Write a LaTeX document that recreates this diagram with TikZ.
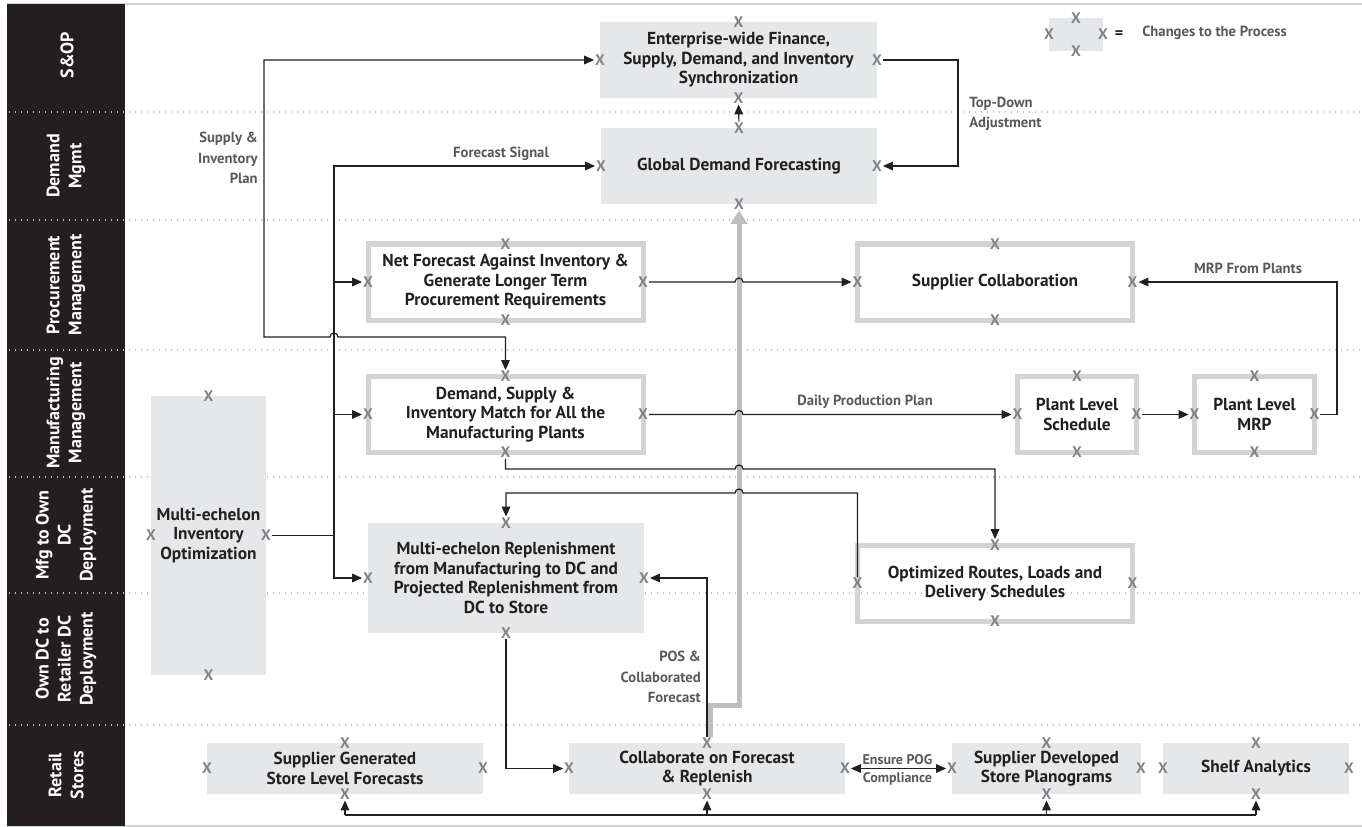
\documentclass[tikz,border=0pt]{standalone}
\usepackage{fontspec}
\setmainfont{PT Sans}
\usetikzlibrary{arrows.meta}
\definecolor{ink}{HTML}{231F20}
\definecolor{boxgray}{HTML}{E6E7E8}
\definecolor{rimgray}{HTML}{D1D3D4}
\definecolor{xgray}{HTML}{808285}
\definecolor{labgray}{HTML}{58595B}
\definecolor{flowgray}{HTML}{BCBEC0}
\definecolor{dotgray}{HTML}{BCBEC0}
\begin{document}
\begin{tikzpicture}[x=0.75pt,y=-0.75pt,
  sz/.style 2 args={minimum width=#1*0.75pt, minimum height=#2*0.75pt},
  boxtext/.style={inner sep=0pt, outer sep=0pt, align=center, text=ink, font=\bfseries\fontsize{13}{14.6}\selectfont},
  graybox/.style={boxtext, fill=boxgray, draw=none},
  rimbox/.style={boxtext, draw=rimgray, line width=3.75pt},
  xm/.style={text=xgray, font=\bfseries\fontsize{11.5}{11.5}\selectfont, inner sep=0.6pt},
  conn/.style={draw=ink, line width=0.9pt},
  arr/.style={conn, -{Triangle[length=7.5pt,width=6.5pt]}},
  lab/.style={text=labgray, font=\bfseries\fontsize{11}{15.4}\selectfont, inner sep=0pt},
  lane/.style={rotate=90, text=white, align=center, font=\bfseries\fontsize{13.5}{16.5}\selectfont},
  divider/.style={draw=dotgray, line width=0.9pt, dash pattern=on 0.9pt off 3.6pt},
  flow/.style={draw=flowgray, line width=3.75pt, -{Triangle[length=10pt,width=12pt]}},
]
\useasboundingbox (0,0) rectangle (1362,827);
% frame and sidebar
\draw[rimgray, line width=1pt] (7,4) -- (1362,4);
\draw[rimgray, line width=1pt] (7,826) -- (1362,826);
\fill[ink] (7,4) rectangle (125,826);
\foreach \yy in {112,220,350,477,593,725} \draw[divider] (9,\yy) -- (1362,\yy);
% lanes
\node[lane] (l1) at (67,55) {S\&OP};
\node[lane] (l2) at (66,166) {Demand\\Mgmt};
\node[lane] (l3) at (66,285) {Procurement\\Management};
\node[lane] (l4) at (66,413) {Manufacturing\\Management};
\node[lane] (l5) at (66,535) {Mfg to Own\\DC\\Deployment};
\node[lane] (l6) at (66,659) {Own DC to\\Retailer DC\\Deployment};
\node[lane] (l7) at (66,775) {Retail\\Stores};
% boxes
\node[graybox, sz={277}{76}] (ent) at (738.5,60) {Enterprise-wide Finance,\\Supply, Demand, and Inventory\\Synchronization};
\node[graybox, sz={276}{76}] (gdf) at (739,166) {Global Demand Forecasting};
\node[rimbox, sz={275}{76}] (nf) at (505.5,282) {Net Forecast Against Inventory \&\\Generate Longer Term\\Procurement Requirements};
\node[rimbox, sz={275}{76}] (dsi) at (505.5,414.5) {Demand, Supply \&\\Inventory Match for All the\\Manufacturing Plants};
\node[rimbox, sz={275}{76}] (sc) at (995,282) {Supplier Collaboration};
\node[rimbox, sz={119}{76}] (pls) at (1077,414.5) {Plant Level\\Schedule};
\node[rimbox, sz={120}{76}] (pmrp) at (1254.5,414.5) {Plant Level\\MRP};
\node[graybox, sz={115}{279}] (meio) at (208.5,535.5) {Multi-echelon\\Inventory\\Optimization};
\node[graybox, sz={276}{110}] (mer) at (506,578) {Multi-echelon Replenishment\\from Manufacturing to DC and\\Projected Replenishment from\\DC to Store};
\node[rimbox, sz={275}{76}] (orl) at (995,583.5) {Optimized Routes, Loads and\\Delivery Schedules};
\node[graybox, sz={276}{51}] (sgf) at (345,768.5) {Supplier Generated\\Store Level Forecasts};
\node[graybox, sz={276}{51}] (cfr) at (707,768.5) {Collaborate on Forecast\\\& Replenish};
\node[graybox, sz={189}{51}] (sdp) at (1046.5,768.5) {Supplier Developed\\Store Planograms};
\node[graybox, sz={186}{51}] (sa) at (1256,768.5) {Shelf Analytics};
% legend
\node[fill=boxgray, inner sep=0pt, outer sep=0pt, sz={54}{33}] (leg) at (1076,34.5) {};
\node[text=ink, font=\bfseries\fontsize{12}{12}\selectfont, inner sep=0pt] (eq) at (1119,35) {=};
\node[text=labgray, font=\bfseries\fontsize{11}{12}\selectfont, anchor=west, inner sep=0pt] (legt) at (1142,33) {Changes to the Process};
% X markers
\foreach \b in {ent,gdf,nf,dsi,sc,pls,pmrp,meio,mer,orl,sgf,cfr,sdp,sa,leg}{
  \node[xm] (\b-n) at (\b.north) {X};
  \node[xm] (\b-s) at (\b.south) {X};
  \node[xm] (\b-e) at (\b.east) {X};
  \node[xm] (\b-w) at (\b.west) {X};
}
% big gray flow
\coordinate (cfrtop) at ([xshift=2.25pt]cfr-n.north);
\coordinate (gx) at (739,705);
\draw[flow] (cfrtop) |- (gx) -- (gdf-s);
% connectors
\draw[arr] (gdf-n) -- (ent-s);
\coordinate (td) at (958,60);
\draw[arr] (ent-e) -- (td) |- (gdf-e);
\node[lab, anchor=west, align=left] (tdl) at (969,114) {Top-Down\\Adjustment};
% supply & inventory plan
\draw[conn, {Triangle[length=7.5pt,width=6.5pt]}-{Triangle[length=7.5pt,width=6.5pt]}] (ent-w) -| (264,337) -- (330,337) .. controls (330,331.7) and (338,331.7) .. (338,337) -- (505.5,337) -- (dsi-n);
\node[lab, anchor=east, align=right] (sipl) at (258,158) {Supply \&\\Inventory\\Plan};
% forecast signal bus
\coordinate (bus) at (334,535.5);
\draw[arr] (meio-e) -- (bus) |- (gdf-w);
\draw[arr] (bus |- nf-w) -- (nf-w);
\draw[arr] (bus |- dsi-w) -- (dsi-w);
\draw[arr] (bus) |- (mer-w);
\node[lab] (fsl) at (501,154) {Forecast Signal};
% procurement
\draw[arr] (nf-e) -- (735,282) .. controls (735,276.7) and (743,276.7) .. (743,282) -- (sc-w);
% manufacturing
\draw[arr] (dsi-e) -- (735,414.5) .. controls (735,409.2) and (743,409.2) .. (743,414.5) -- (pls-w);
\node[lab] (dpl) at (865,402) {Daily Production Plan};
\draw[arr] (pls-e) -- (pmrp-w);
\draw[arr] (pmrp-e) -- (1337,414.5) -- (1337,282) -- (sc-e);
\node[lab] (mrpl) at (1248,268) {MRP From Plants};
% deployment
\draw[arr] (dsi-s) -- (505.5,469) -- (735,469) .. controls (735,463.7) and (743,463.7) .. (743,469) -- (995,469) -- (orl-n);
\draw[arr] (orl-w) -- (857.5,493) -- (743,493) .. controls (743,487.7) and (735,487.7) .. (735,493) -- (506,493) -- (mer-n);
\draw[arr] (cfr-n) -- (707,578) -- (mer-e);
\node[lab, anchor=east, align=right] (posl) at (701,677) {POS \&\\Collaborated\\Forecast};
\draw[arr] (mer-s) |- (cfr-w);
% retail
\draw[conn, {Triangle[length=7.5pt,width=6.5pt]}-{Triangle[length=7.5pt,width=6.5pt]}] (cfr-e) -- (sdp-w);
\node[lab, font=\bfseries\fontsize{10.5}{11}\selectfont] (pog1) at (897.5,760) {Ensure POG};
\node[lab, font=\bfseries\fontsize{10.5}{11}\selectfont] (pog2) at (897.5,779) {Compliance};
\coordinate (busb) at (0,815);
\draw[conn] (sgf-s |- busb) -- (sa-s |- busb);
\foreach \b in {sgf,cfr,sdp,sa} \draw[arr] (\b-s |- busb) -- (\b-s);
\end{tikzpicture}
\end{document}
